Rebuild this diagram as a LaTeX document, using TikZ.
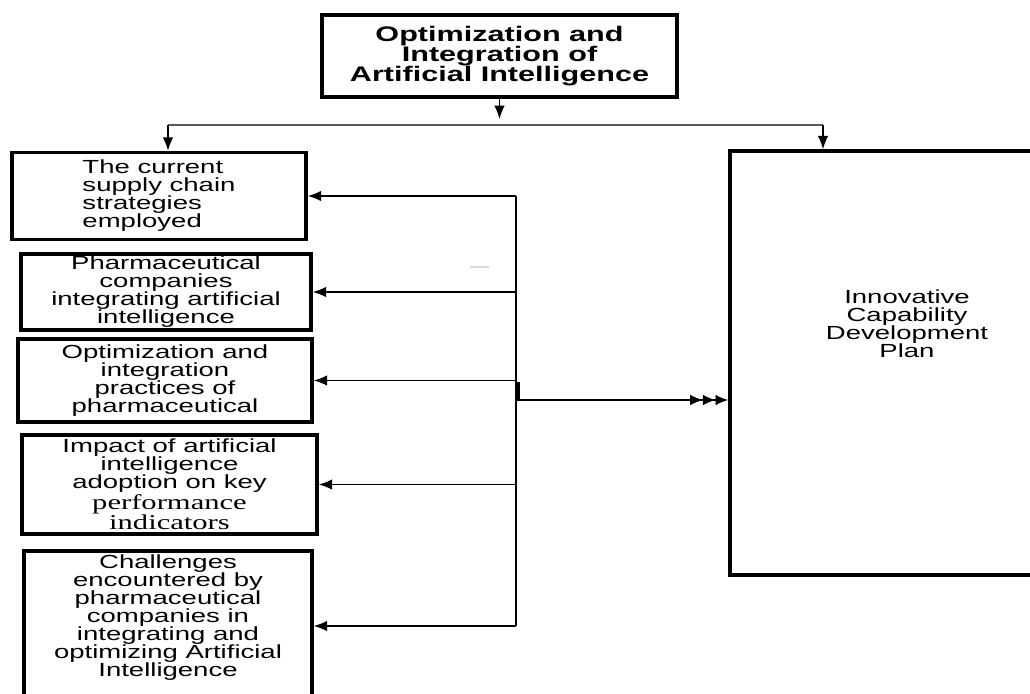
\documentclass[tikz,border=0pt]{standalone}
\usepackage{fontspec}
\setmainfont{Liberation Sans}[FakeStretch=1.45]
\newfontfamily\timesfont{Liberation Serif}[FakeStretch=1.45]
\usetikzlibrary{arrows.meta}
\newcommand{\px}{0.025cm}

\begin{document}
\begin{tikzpicture}[x=\px, y=-\px, >={Latex[length=9.5pt,width=7.5pt]},
    box/.style={draw=black, line width=2.6pt, inner sep=0pt, align=center, font=\fontsize{13.5}{12.8}\selectfont},
    label/.style={align=center, font=\fontsize{13.5}{12.8}\selectfont},
    wire/.style={black, line width=0.9pt}]
    \useasboundingbox (0,0) rectangle (1030,693);
    \clip (0,0) rectangle (1030,693);

    % top box
    \node[box, minimum width=355*\px, minimum height=82*\px, font=\bfseries\fontsize{15}{14.2}\selectfont] (ai) at (499.5,56) {Optimization and\\ Integration of\\ Artificial Intelligence};

    % left column
    \node[box, minimum width=294*\px, minimum height=87*\px, align=left] (current) at (159,196) {The current\\ supply chain\\ strategies\\ employed};
    \node[box, minimum width=290*\px, minimum height=76*\px] (pharma) at (166,292) {Pharmaceutical\\ companies\\ integrating artificial\\ intelligence};
    \node[box, minimum width=294*\px, minimum height=83*\px] (practice) at (165,380.5) {Optimization and\\ integration\\ practices of\\ pharmaceutical};
    \node[box, minimum width=295*\px, minimum height=99*\px] (impact) at (169.5,484.5) {Impact of artificial\\ intelligence\\ adoption on key\\ {\timesfont\fontsize{15}{12.8}\selectfont performance}\\ {\timesfont\fontsize{15}{12.8}\selectfont indicators}};
    \node[box, minimum width=288*\px, minimum height=150*\px] (challenge) at (168,626) {};
    \node[label] (challengetext) at (168,618) {Challenges\\ encountered by\\ pharmaceutical\\ companies in\\ integrating and\\ optimizing Artificial\\ Intelligence};

    % right box
    \node[box, minimum width=370*\px, minimum height=424*\px] (plan) at (915,363) {};
    \node[label] (plantext) at (907,324) {Innovative\\ Capability\\ Development\\ Plan};

    % split from the top
    \coordinate (gap) at (0,119);
    \coordinate (splitl) at (168,125);
    \coordinate (splitr) at (823,125);
    \draw[wire, ->] (ai.south) -- (ai.south |- gap);
    \draw[wire, black!65] (splitl) -- (splitr);
    \draw[wire, ->] (splitl) -- (splitl |- current.north);
    \draw[wire, ->] (splitr) -- (splitr |- plan.north);

    % bus to the left boxes
    \coordinate (bus) at (516,0);
    \draw[wire] (current.east -| bus) -- (challenge.east -| bus);
    \foreach \n in {current, pharma, practice, impact, challenge}
        \draw[wire, ->] (\n.east -| bus) -- (\n.east);
    \draw[line width=2.2pt] (518,382) -- (518,401);

    % to the plan
    \coordinate (out) at (516,400);
    \draw[wire, -{Latex[length=9pt,width=7.5pt] Latex[length=9pt,width=7.5pt] Latex[length=9pt,width=7.5pt]}] (out) -- (out -| plan.west);

    \draw[gray!30, line width=1.5pt] (470,267) -- (489,267);
\end{tikzpicture}
\end{document}
